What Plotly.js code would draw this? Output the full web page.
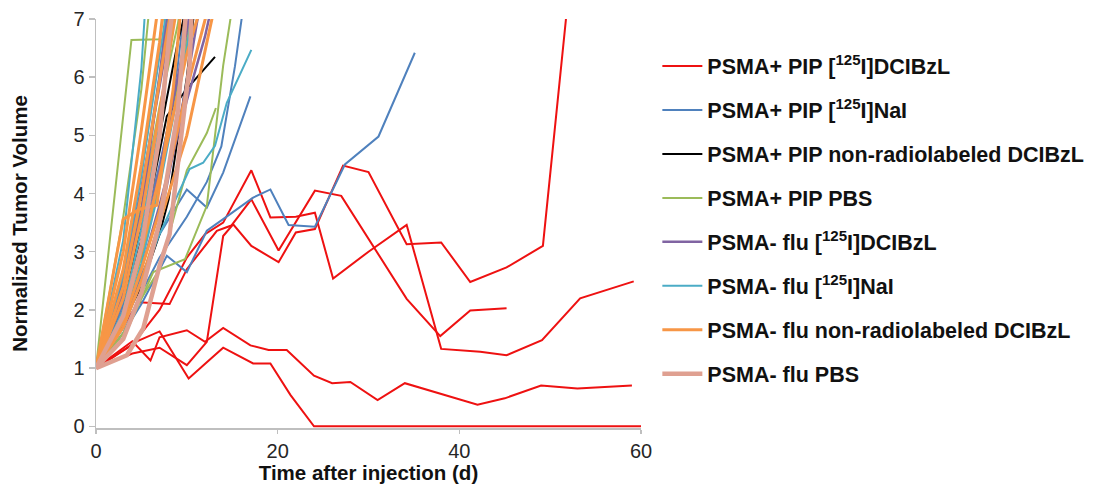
<!DOCTYPE html>
<html>
<head>
<meta charset="utf-8">
<script src="https://cdn.plot.ly/plotly-3.0.1.min.js"></script>
<style>html,body{margin:0;padding:0;background:#fff;}#chart{width:1102px;height:499px;}</style>
</head>
<body>
<div id="chart"></div>
<script>
// ---- legend labels ----
const seriesNames = [
  "PSMA+ PIP [<sup>125</sup>I]DCIBzL",
  "PSMA+ PIP [<sup>125</sup>I]NaI",
  "PSMA+ PIP non-radiolabeled DCIBzL",
  "PSMA+ PIP PBS",
  "PSMA- flu [<sup>125</sup>I]DCIBzL",
  "PSMA- flu [<sup>125</sup>I]NaI",
  "PSMA- flu non-radiolabeled DCIBzL",
  "PSMA- flu PBS"
];
const xTicks = [0, 20, 40, 60];

// ---- PSMA+ PIP [125I]DCIBzL (one array per animal) ----
const redDays = [
  [0,4,6,7,10,12,14,17,19,21,24,26,28,31,34,38,42,45,49,53,59],
  [0,4.5,7,10.2,12.2,14,17.3,19.2,21.4,24,60],
  [0,4,7,10,12,14,17.1,19.2,22,24.1,26.1,30,34.2,38,42.3,45.2,49.1,53.3,59.2],
  [0,4.7,8.1,10,13.3,14.9,17.1,20.1,24.1,27,34.2,37.9,41.2,45.2],
  [0,4,7,10,12.2,14,15.1,17.1,20.1,22,24.1,27.2,30,34.2,38,41.2,45.2,49.2,52]
];
const redVals = [
  [1,1.46,1.13,1.53,1.65,1.45,1.69,1.39,1.31,1.31,0.87,0.74,0.76,0.45,0.74,0.56,0.37,0.48,0.70,0.65,0.70],
  [1,1.46,1.63,0.82,1.10,1.35,1.08,1.08,0.54,0,0],
  [1,1.4,2.0,2.9,3.3,3.5,4.4,3.59,3.6,3.67,2.54,3.0,3.46,1.33,1.28,1.22,1.48,2.2,2.49],
  [1,2.13,2.1,2.7,3.36,3.45,3.9,3.02,4.05,3.96,2.19,1.55,1.99,2.03],
  [1,1.25,1.35,1.05,1.45,3.27,3.47,3.1,2.82,3.33,3.39,4.48,4.37,3.13,3.16,2.48,2.73,3.1,7.4]
];

// ---- PSMA+ PIP [125I]NaI ----
const blueDays = [
  [0,3,5,7.8,10,12.2,14,17.3,19.2,21.2,24.1,27.4,31.1,35.1],
  [0,3,5,7,10,12.2,14,17],
  [0,3,5,7,10,12.2,13.8,15.3,16.3],
  [0,3,5,7,10,11],
  [0,3,5,7,8.5],
  [0,3,5,7,9,10]
];
const blueVals = [
  [1,1.6,2.1,2.93,2.65,3.36,3.56,3.93,4.07,3.46,3.43,4.5,4.98,6.42],
  [1,1.8,2.6,3.3,4.07,3.76,4.36,5.67],
  [1,1.6,2.3,2.9,3.6,4.2,4.81,6.19,7.3],
  [1,2.1,3.2,4.5,6.6,7.6],
  [1,2.5,4.0,6.0,7.6],
  [1,2.0,3.0,4.3,6.2,7.5]
];

// ---- PSMA+ PIP non-radiolabeled DCIBzL ----
const blackDays = [
  [0,3,5,7.8,10,13.1],
  [0,3,5,7,9,10.3],
  [0,3,5,7,8,10,11]
];
const blackVals = [
  [1,2.0,3.2,5.33,5.8,6.35],
  [1,2.2,3.4,5.0,6.6,7.4],
  [1,1.8,2.4,3.3,3.9,6.0,7.4]
];

// ---- PSMA+ PIP PBS ----
const greenDays = [
  [0,3.9,7,8],
  [0,3,5,6],
  [0,3,5,7,10,12.2,13.2],
  [0,3,6.3,9.8,12.2,14,15.2],
  [0,3,5,7,9,9.5],
  [0,3,5,7,10,11]
];
const greenVals = [
  [1,6.64,6.65,7.6],
  [1,3.6,5.8,7.4],
  [1,1.6,2.2,2.7,4.4,5.04,5.47],
  [1,1.5,2.65,2.87,3.79,6.2,7.4],
  [1,2.4,3.8,5.5,6.9,7.4],
  [1,1.9,2.9,4.2,6.6,7.5]
];

// ---- PSMA- flu [125I]DCIBzL ----
const purpleDays = [
  [0,3,5,7,8],
  [0,3,5,7,10,10.6],
  [0,3,5,7,10,12,13],
  [0,3,5,7,9],
  [0,3,5,7,10,11.5]
];
const purpleVals = [
  [1,2.3,3.7,6.0,7.4],
  [1,2.0,3.0,4.4,6.8,7.4],
  [1,1.8,2.7,3.8,5.6,6.7,7.4],
  [1,2.6,4.1,5.8,7.6],
  [1,1.7,2.5,3.5,5.9,7.3]
];

// ---- PSMA- flu [125I]NaI ----
const tealDays = [
  [0,3,5,7,10.3,11.8,13.1,14.4,17.1],
  [0,3,5,5.5],
  [0,3,5,7,8.7],
  [0,3,5,7,10,11],
  [0,3,5,7,8]
];
const tealVals = [
  [1,1.7,2.5,3.3,4.42,4.53,4.82,5.56,6.47],
  [1,3.2,6.16,7.4],
  [1,2.0,3.4,5.2,7.1],
  [1,1.8,2.8,4.1,6.5,7.5],
  [1,2.6,4.3,6.3,7.4]
];

// ---- PSMA- flu non-radiolabeled DCIBzL ----
const orangeDays = [
  [0,3,5,7],
  [0,3,5,7,7.5],
  [0,3,5,7,9],
  [0,3,5,7,10,11.7],
  [0,3,5,7,10,12.2],
  [0,3,4.8,6.7,8.5,9.5],
  [0,3,5,7,8.5],
  [0,3,5,7,10,12.9]
];
const orangeVals = [
  [1,3.0,5.1,7.4],
  [1,2.7,4.5,6.6,7.3],
  [1,2.2,3.6,5.4,7.3],
  [1,1.9,3.0,4.3,6.4,7.3],
  [1,1.8,2.7,3.7,5.8,7.1],
  [1,3.56,3.73,3.8,5.8,7.4],
  [1,2.4,4.0,5.9,7.4],
  [1,1.7,2.5,3.5,5.0,7.1]
];

// ---- PSMA- flu PBS ----
const pinkDays = [
  [0,3.4,5.2,7,8.1,9,10.3,10.6],
  [0,3,5,7,9,10],
  [0,3,5,7,8,8.6]
];
const pinkVals = [
  [1,1.22,1.68,2.76,3.3,4.5,6.2,7.4],
  [1,1.5,2.3,3.5,5.4,7.3],
  [1,1.9,3.1,5.0,6.6,7.4]
];

// ---- styling (not data) ----
const groups = [
  {days: redDays,    vals: redVals,    color: "#EE1111", width: 2},
  {days: blueDays,   vals: blueVals,   color: "#4F81BD", width: 2},
  {days: blackDays,  vals: blackVals,  color: "#000000", width: 2},
  {days: greenDays,  vals: greenVals,  color: "#9BBB59", width: 2},
  {days: purpleDays, vals: purpleVals, color: "#8064A2", width: 2.5},
  {days: tealDays,   vals: tealVals,   color: "#4BACC6", width: 2},
  {days: orangeDays, vals: orangeVals, color: "#F79646", width: 3},
  {days: pinkDays,   vals: pinkVals,   color: "#DFA091", width: 4.5}
];

const traces = [];
groups.forEach((g, gi) => {
  g.days.forEach((d, li) => {
    traces.push({
      x: d, y: g.vals[li],
      type: "scatter", mode: "lines",
      name: "<b>" + seriesNames[gi] + "</b>",
      legendgroup: "g" + gi,
      legendrank: gi + 1,
      showlegend: li === 0,
      line: {color: g.color, width: g.width},
      hoverinfo: "x+y"
    });
  });
});

const fam = "Liberation Sans, Arial, sans-serif";
const axisFont = {family: fam, size: 20, color: "#262626"};
const layout = {
  width: 1102, height: 499,
  margin: {l: 96, r: 461, t: 19, b: 71},
  paper_bgcolor: "#fff", plot_bgcolor: "#fff",
  showlegend: true,
  xaxis: {
    range: [0, 60], tickvals: xTicks, ticktext: xTicks.map(String),
    showline: true, linecolor: "#BFBFBF", linewidth: 1.5,
    ticks: "outside", ticklen: 4, tickcolor: "#BFBFBF", tickwidth: 1.5,
    showgrid: false, zeroline: false, tickfont: axisFont,
    title: {text: "<b>Time after injection (d)</b>", font: {family: fam, size: 20.5, color: "#111"}, standoff: 0}
  },
  yaxis: {
    range: [-0.03, 7], dtick: 1, tick0: 0,
    showline: true, linecolor: "#BFBFBF", linewidth: 1.5,
    ticks: "outside", ticklen: 6, tickcolor: "#BFBFBF", tickwidth: 1.5,
    showgrid: false, zeroline: false, tickfont: axisFont,
    title: {text: "<b>Normalized Tumor Volume</b>", font: {family: fam, size: 20.5, color: "#111"}, standoff: 40}
  },
  legend: {
    x: 1.03, xanchor: "left", y: 0.935, yanchor: "top",
    font: {family: fam, size: 21.5, color: "#111"},
    tracegroupgap: 13, traceorder: "grouped", itemwidth: 40,
    bgcolor: "rgba(0,0,0,0)"
  }
};

Plotly.newPlot("chart", traces, layout, {displayModeBar: false, staticPlot: true});
</script>
</body>
</html>
